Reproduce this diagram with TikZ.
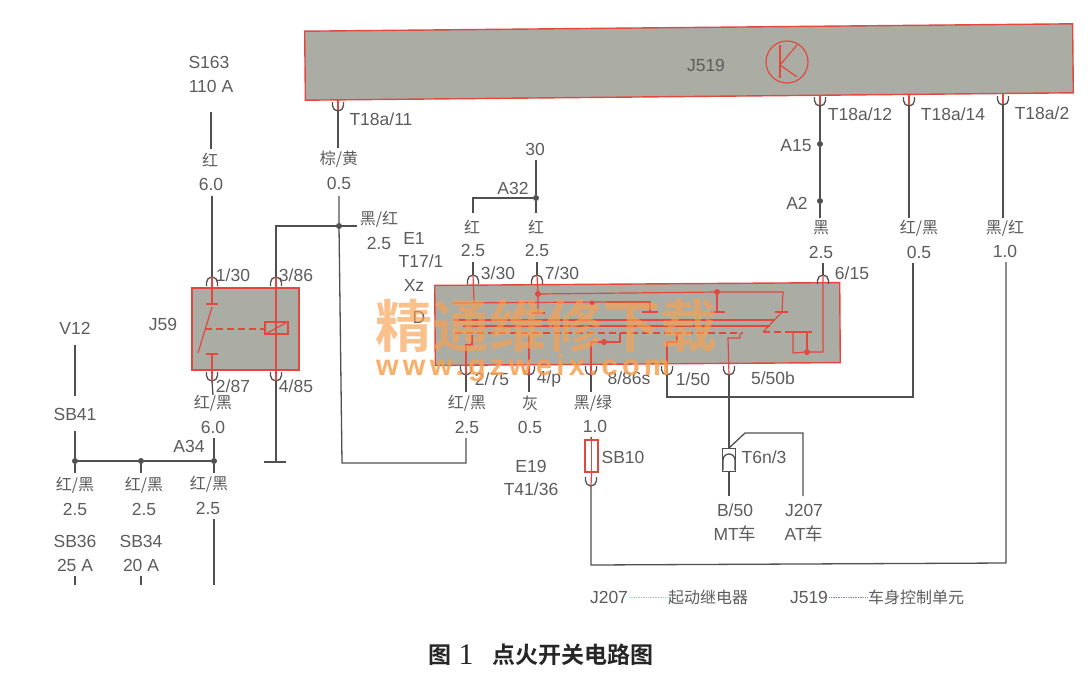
\documentclass[tikz,border=0pt]{standalone}
\usepackage{fontspec}
\setmainfont{Liberation Sans}
\newfontfamily\cjk{Noto Sans CJK SC}
\newfontfamily\cjkb{Noto Sans CJK SC Bold}
\newfontfamily\serifone{Liberation Serif}
\newfontfamily\wmfont[LetterSpace=15]{Liberation Sans Bold}
\usetikzlibrary{positioning}
\definecolor{inkGray}{HTML}{5C5C5C}
\definecolor{wireGray}{HTML}{505050}
\definecolor{boxRed}{HTML}{E2483E}
\definecolor{boxFill}{HTML}{ABADA5}
\definecolor{wmOrange}{HTML}{F8A050}
\tikzstyle{lbl} = [text=inkGray, font=\fontsize{17.5}{20}\selectfont, inner sep=1pt]
\tikzstyle{lblCn} = [text=inkGray, font=\fontsize{16}{18}\selectfont\cjk, inner sep=1pt]
\tikzstyle{wire} = [draw=wireGray, line width=1.3pt]
\tikzstyle{rline} = [draw=boxRed, line width=1.2pt]
\tikzstyle{rdash} = [draw=boxRed, line width=1.2pt, dash pattern=on 7pt off 4pt]
\tikzstyle{boxNode} = [rectangle, draw=boxRed, fill=boxFill, line width=1.4pt, inner sep=0pt]
\tikzstyle{jdot} = [circle, fill=wireGray, inner sep=0pt, minimum size=6pt]
\tikzstyle{rdot} = [circle, fill=boxRed, inner sep=0pt, minimum size=6pt]
\tikzset{
  pinTop/.pic={\draw [wire, line width=1.3pt] (-5.5,-9) -- (-5.5,-5.5) arc (180:0:5.5) -- (5.5,-9);},
  pinBot/.pic={\draw [wire, line width=1.3pt] (-5.5,9) -- (-5.5,5.5) arc (180:360:5.5) -- (5.5,9);}
}
\begin{document}
\begin{tikzpicture}[x=1pt,y=1pt]
    \useasboundingbox (0,0) rectangle (1091,-678);

    % boxes
    \node (J519box)[boxNode, minimum width=768pt, minimum height=69pt, rotate=0.55] at (689,-62) {};
    \node (J59box)[boxNode, minimum width=107pt, minimum height=82pt] at (245.5,-329) {};
    \node (E1box)[boxNode, minimum width=405pt, minimum height=80pt, rotate=0.4] at (637.5,-324) {};

    % J519
    \node (J519)[lbl] at (706,-65) {J519};
    \node (kCircle)[circle, draw=boxRed, line width=1.2pt, minimum size=42pt, inner sep=0pt] at (787,-62) {};
    \coordinate (kA) at (780,-45);
    \coordinate (kB) at (780,-78);
    \coordinate (kC) at (780,-65);
    \coordinate (kD) at (797,-45);
    \coordinate (kE) at (797,-77);
    \draw [rline] (kA) -- (kB);
    \draw [rline] (kD) -- (kC) -- (kE);

    % pins on J519
    \coordinate (b11) at (338,-100);
    \coordinate (p11) at (338,-111);
    \coordinate (b12) at (820,-96);
    \coordinate (p12) at (820,-106);
    \coordinate (b14) at (909,-95);
    \coordinate (p14) at (909,-106);
    \coordinate (b2) at (1003,-94);
    \coordinate (p2) at (1003,-105);
    \draw [rline] (b11) -- (p11);
    \draw [rline] (b12) -- (p12);
    \draw [rline] (b14) -- (p14);
    \draw [rline] (b2) -- (p2);
    \pic at (p11) {pinBot};
    \pic at (p12) {pinBot};
    \pic at (p14) {pinBot};
    \pic at (p2) {pinBot};
    \node (T11)[lbl] at (381,-119) {T18a/11};
    \node (T12)[lbl] at (860,-114) {T18a/12};
    \node (T14)[lbl] at (953,-114) {T18a/14};
    \node (T2)[lbl] at (1042,-113) {T18a/2};

    % left supply and relay J59
    \node (S163)[lbl] at (209,-62) {S163};
    \node (S163a)[lbl] at (211,-86) {110 A};
    \node (c1)[lblCn] at (210,-160) {红};
    \node (c1v)[lbl] at (211,-184) {6.0};
    \node (J59)[lbl] at (163,-324) {J59};
    \node (n130)[lbl] at (233,-275) {1/30};
    \node (n386)[lbl] at (296,-275) {3/86};
    \node (n287)[lbl] at (233,-386) {2/87};
    \node (n485)[lbl] at (296,-386) {4/85};
    \node (c2)[lblCn] at (213,-403) {红/黑};
    \node (c2v)[lbl] at (213,-427) {6.0};

    \coordinate (s1) at (211,-112);
    \coordinate (s2) at (211,-149);
    \coordinate (s3) at (212,-196);
    \coordinate (p130) at (212,-277);
    \coordinate (p386) at (276,-277);
    \coordinate (p287) at (212,-381);
    \coordinate (p485) at (276,-381);
    \pic at (p130) {pinTop};
    \pic at (p386) {pinTop};
    \pic at (p287) {pinBot};
    \pic at (p485) {pinBot};
    \draw [wire] (s1) -- (s2);
    \draw [wire] (s3) -- (p130);

    % relay inside
    \coordinate (r1) at (212,-304);
    \coordinate (r2) at (212,-354);
    \coordinate (rb1) at (206,-304);
    \coordinate (rb2) at (218,-304);
    \coordinate (rb3) at (206,-354);
    \coordinate (rb4) at (218,-354);
    \coordinate (rs1) at (212,-307);
    \coordinate (rs2) at (198,-353);
    \coordinate (rd1) at (205,-329);
    \coordinate (rd2) at (264,-329);
    \node (coil)[rectangle, draw=boxRed, line width=1.3pt, minimum width=23pt, minimum height=12pt, inner sep=0pt] at (276.5,-328) {};
    \draw [rline] (p130) -- (r1);
    \draw [rline] (rb1) -- (rb2);
    \draw [rline] (rb3) -- (rb4);
    \draw [rline] (r2) -- (p287);
    \draw [rline] (rs1) -- (rs2);
    \draw [rdash] (rd1) -- (rd2);
    \draw [rline] (p386) -- (p485);
    \draw [rline] (coil.south west) -- (coil.north east);

    % below relay, ground and bus
    \coordinate (g2) at (213,-395);
    \coordinate (g3) at (214,-438);
    \node (dA34)[jdot] at (214,-461) {};
    \node (dSB36)[jdot] at (75,-461) {};
    \node (dSB34)[jdot] at (141,-461) {};
    \coordinate (gnd) at (276,-462);
    \coordinate (gnd1) at (264,-462);
    \coordinate (gnd2) at (286,-462);
    \draw [wire] (p287) -- (g2);
    \draw [wire] (g3) -- (dA34);
    \draw [wire] (p485) -- (gnd);
    \draw [wire] (gnd1) -- (gnd2);
    \draw [wire] (dSB36) -- (dSB34) -- (dA34);

    \node (V12)[lbl] at (75,-328) {V12};
    \node (SB41)[lbl] at (75,-414) {SB41};
    \node (A34)[lbl] at (189,-446) {A34};
    \node (c3)[lblCn] at (75,-485) {红/黑};
    \node (c3v)[lbl] at (75,-509) {2.5};
    \node (SB36)[lbl] at (75,-541) {SB36};
    \node (SB36a)[lbl] at (75,-565) {25 A};
    \node (c4)[lblCn] at (144,-485) {红/黑};
    \node (c4v)[lbl] at (144,-509) {2.5};
    \node (SB34)[lbl] at (141,-541) {SB34};
    \node (SB34a)[lbl] at (141,-565) {20 A};
    \node (c5)[lblCn] at (209,-484) {红/黑};
    \node (c5v)[lbl] at (208,-508) {2.5};
    \coordinate (v1) at (75,-345);
    \coordinate (v2) at (75,-396);
    \coordinate (v3) at (75,-431);
    \coordinate (v4) at (75,-473);
    \coordinate (v5) at (75,-576);
    \coordinate (v6) at (75,-585);
    \coordinate (w1) at (141,-473);
    \coordinate (w2) at (141,-576);
    \coordinate (w3) at (141,-585);
    \coordinate (x1) at (214,-473);
    \coordinate (x2) at (214,-519);
    \coordinate (x3) at (214,-585);
    \draw [wire] (v1) -- (v2);
    \draw [wire] (v3) -- (dSB36);
    \draw [wire] (dSB36) -- (v4);
    \draw [wire] (v5) -- (v6);
    \draw [wire] (dSB34) -- (w1);
    \draw [wire] (w2) -- (w3);
    \draw [wire] (dA34) -- (x1);
    \draw [wire] (x2) -- (x3);

    % brown/yellow feed
    \node (c6)[lblCn] at (339,-159) {棕/黄};
    \node (c6v)[lbl] at (339,-183) {0.5};
    \node (c7)[lblCn] at (379,-219) {黑/红};
    \node (c7v)[lbl] at (379,-243) {2.5};
    \node (d86)[jdot, minimum size=6pt] at (339,-226) {};
    \coordinate (f1) at (338,-148);
    \coordinate (f2) at (339,-196);
    \coordinate (f3) at (342,-463);
    \coordinate (f4) at (466,-463);
    \coordinate (f5) at (466,-438);
    \coordinate (f6) at (276,-226);
    \coordinate (f7) at (357,-226);
    \draw [wire] (p11) -- (f1);
    \draw [wire] (f2) -- (d86) -- (f3) -- (f4) -- (f5);
    \draw [wire] (p386) -- (f6) -- (f7);

    % E1 top
    \node (n30)[lbl] at (535,-149) {30};
    \node (A32)[lbl] at (513,-188) {A32};
    \node (E1)[lbl] at (414,-238) {E1};
    \node (T171)[lbl] at (421,-261) {T17/1};
    \node (Xz)[lbl] at (414,-285) {Xz};
    \node (D)[lbl] at (419,-317) {D};
    \node (c8)[lblCn] at (472,-227) {红};
    \node (c8v)[lbl] at (473,-250) {2.5};
    \node (c9)[lblCn] at (536,-227) {红};
    \node (c9v)[lbl] at (537,-250) {2.5};
    \node (n330)[lbl] at (498,-273) {3/30};
    \node (n730)[lbl] at (562,-273) {7/30};
    \node (n615)[lbl] at (852,-273) {6/15};
    \node (dA32)[jdot, minimum size=6pt] at (536,-198) {};
    \coordinate (e1) at (536,-160);
    \coordinate (e2) at (536,-213);
    \coordinate (e3) at (473,-198);
    \coordinate (e4) at (473,-213);
    \coordinate (p330) at (473,-275);
    \coordinate (p730) at (537,-275);
    \coordinate (e5) at (473,-262);
    \coordinate (e6) at (537,-262);
    \pic at (p330) {pinTop};
    \pic at (p730) {pinTop};
    \draw [wire] (e1) -- (dA32) -- (e2);
    \draw [wire] (dA32) -- (e3) -- (e4);
    \draw [wire] (e5) -- (p330);
    \draw [wire] (e6) -- (p730);

    % E1 inside
    \coordinate (i1) at (474,-303);
    \coordinate (i2) at (453,-303);
    \coordinate (i3) at (607,-302);
    \node (dR1)[rdot] at (538,-294) {};
    \node (dR2)[rdot] at (717,-292) {};
    \node (dR3)[rdot, minimum size=5pt] at (592,-303) {};
    \coordinate (i4) at (783,-292);
    \coordinate (i5) at (782,-312);
    \coordinate (i6) at (775,-312);
    \coordinate (i7) at (788,-312);
    \coordinate (i8) at (763,-332);
    \coordinate (i9) at (717,-312);
    \coordinate (i10) at (710,-312);
    \coordinate (i11) at (725,-312);
    \coordinate (i12) at (538,-313);
    \coordinate (i13) at (532,-313);
    \coordinate (i14) at (545,-313);
    \coordinate (i15) at (650,-302);
    \coordinate (i16) at (650,-312);
    \coordinate (i17) at (642,-312);
    \coordinate (i18) at (658,-312);
    \coordinate (h1) at (453,-320);
    \coordinate (h2) at (775,-320);
    \coordinate (h3) at (463,-326);
    \coordinate (h4) at (770,-326);
    \coordinate (h5) at (455,-333);
    \coordinate (h6) at (743,-333);
    \coordinate (h7) at (763,-332);
    \coordinate (h8) at (792,-332);
    \coordinate (h9) at (812,-332);
    \draw [rline] (p330) -- (i1);
    \draw [rline] (p730) -- (dR1) -- (i12);
    \draw [rline] (i13) -- (i14);
    \draw [rline] (i2) -- (i3);
    \draw [rline] (i3) -- (i15) -- (i16);
    \draw [rline] (i17) -- (i18);
    \draw [rline] (dR1) -- (dR2) -- (i4) -- (i5);
    \draw [rline] (i6) -- (i7);
    \draw [rline] (i5) -- (i8);
    \draw [rline] (dR2) -- (i9);
    \draw [rline] (i10) -- (i11);
    \draw [rline] (h1) -- (h2);
    \draw [rline] (h3) -- (h4);
    \draw [rdash] (h5) -- (h6);
    \draw [rdash] (h7) -- (h8);
    \draw [rline] (h8) -- (h9);

    % E1 bottom
    \coordinate (p275) at (466,-375);
    \coordinate (p4p) at (529,-375);
    \coordinate (p886) at (591,-375);
    \coordinate (p150) at (667,-375);
    \coordinate (p550) at (729,-375);
    \coordinate (p615) at (823,-275);
    \pic at (p275) {pinBot};
    \pic at (p4p) {pinBot};
    \pic at (p886) {pinBot};
    \pic at (p150) {pinBot};
    \pic at (p550) {pinBot};
    \pic at (p615) {pinTop};
    \node (dR4)[rdot] at (604,-342) {};
    \node (dR5)[rdot] at (807,-352) {};
    \coordinate (j1) at (466,-345);
    \coordinate (j2) at (472,-345);
    \coordinate (j3) at (472,-335);
    \coordinate (j4) at (529,-335);
    \coordinate (j5) at (591,-342);
    \coordinate (j6) at (620,-342);
    \coordinate (j7) at (620,-333);
    \coordinate (j8) at (667,-342);
    \coordinate (j9) at (677,-342);
    \coordinate (j10) at (677,-334);
    \coordinate (j11) at (728,-338);
    \coordinate (j12) at (740,-338);
    \coordinate (j13) at (740,-333);
    \coordinate (j14) at (793,-332);
    \coordinate (j15) at (793,-353);
    \coordinate (j16) at (823,-352);
    \coordinate (j17) at (807,-333);
    \draw [rline] (p275) -- (j1) -- (j2) -- (j3);
    \draw [rline] (p4p) -- (j4);
    \draw [rline] (p886) -- (j5) -- (dR4) -- (j6) -- (j7);
    \draw [rline] (p150) -- (j8) -- (j9) -- (j10);
    \draw [rline] (p550) -- (j11) -- (j12) -- (j13);
    \draw [rline] (j14) -- (j15) -- (dR5) -- (j16) -- (p615);
    \draw [rline] (dR5) -- (j17);

    \node (n275)[lbl] at (492,-379) {2/75};
    \node (n4p)[lbl] at (549,-379) {4/p};
    \node (n886)[lbl] at (629,-378) {8/86s};
    \node (n150)[lbl] at (693,-379) {1/50};
    \node (n550)[lbl] at (773,-378) {5/50b};
    \node (c10)[lblCn] at (467,-403) {红/黑};
    \node (c10v)[lbl] at (467,-427) {2.5};
    \node (c11)[lblCn] at (530,-403) {灰};
    \node (c11v)[lbl] at (530,-427) {0.5};
    \node (c12)[lblCn] at (593,-403) {黑/绿};
    \node (c12v)[lbl] at (595,-426) {1.0};
    \node (E19)[lbl] at (531,-466) {E19};
    \node (T4136)[lbl] at (531,-489) {T41/36};
    \coordinate (k1) at (466,-392);
    \coordinate (k2) at (529,-392);
    \coordinate (k3) at (591,-392);
    \draw [wire] (p275) -- (k1);
    \draw [wire] (p4p) -- (k2);
    \draw [wire] (p886) -- (k3);

    % fuse SB10 and long return
    \node (SB10)[lbl] at (623,-457) {SB10};
    \node (fuse)[rectangle, draw=boxRed, fill=white, line width=1.2pt, minimum width=13pt, minimum height=32pt, inner sep=0pt] at (591.5,-456) {};
    \coordinate (u0) at (591,-437);
    \coordinate (pFuse) at (591,-486);
    \coordinate (u1) at (591,-565);
    \coordinate (u2) at (1006,-563);
    \coordinate (u3) at (1006,-262);
    \coordinate (u4) at (1003,-218);
    \pic at (pFuse) {pinBot};
    \draw [wire] (u0) -- (fuse.north);
    \draw [rline] (fuse.north) -- (fuse.south);
    \draw [rline] (fuse.south) -- (pFuse);
    \draw [wire] (pFuse) -- (u1) -- (u2) -- (u3);
    \draw [wire] (p2) -- (u4);
    \node (c13)[lblCn] at (1005,-228) {黑/红};
    \node (c13v)[lbl] at (1005,-251) {1.0};

    % right side wires
    \node (dA15)[jdot] at (820,-144) {};
    \node (dA2)[jdot] at (820,-201) {};
    \node (A15)[lbl] at (796,-146) {A15};
    \node (A2)[lbl] at (797,-203) {A2};
    \node (c14)[lblCn] at (821,-228) {黑};
    \node (c14v)[lbl] at (821,-252) {2.5};
    \node (c15)[lblCn] at (919,-228) {红/黑};
    \node (c15v)[lbl] at (919,-252) {0.5};
    \coordinate (m1) at (820,-218);
    \coordinate (m2) at (823,-263);
    \coordinate (m3) at (909,-218);
    \coordinate (m4) at (913,-263);
    \coordinate (m5) at (913,-397);
    \coordinate (m6) at (667,-397);
    \draw [wire] (p12) -- (dA15) -- (dA2) -- (m1);
    \draw [wire] (m2) -- (p615);
    \draw [wire] (p14) -- (m3);
    \draw [wire] (m4) -- (m5) -- (m6) -- (p150);

    % T6n/3
    \node (T6n)[rectangle, draw=wireGray, line width=1.4pt, minimum width=13pt, minimum height=23pt, inner sep=0pt] at (729,-460) {};
    \node (T6nL)[lbl] at (764,-457) {T6n/3};
    \node (B50)[lbl] at (735,-510) {B/50};
    \node (MT)[lbl] at (735,-534) {MT{\cjk 车}};
    \node (J207)[lbl] at (804,-510) {J207};
    \node (AT)[lbl] at (804,-534) {AT{\cjk 车}};
    \coordinate (q1) at (729,-496);
    \coordinate (q2) at (729,-448);
    \coordinate (q3) at (745,-433);
    \coordinate (q4) at (803,-433);
    \coordinate (q5) at (803,-496);
    \coordinate (q6) at (723,-470);
    \coordinate (q7) at (735,-470);
    \draw [wire] (p550) -- (T6n.north);
    \draw [wire] (T6n.south) -- (q1);
    \draw [wire] (q2) -- (q3) -- (q4) -- (q5);
    \draw [wire, line width=1.3pt] (q6) -- (723,-460) arc (180:0:6) -- (q7);

    % legend and title
    \node (lgJ207)[lbl] at (609,-597) {J207};
    \node (lgJ207t)[lblCn] at (708,-597) {起动继电器};
    \node (lgJ519)[lbl] at (809,-597) {J519};
    \node (lgJ519t)[lblCn] at (916,-597) {车身控制单元};
    \draw [draw=orange!60, line width=0.7pt, densely dotted] (lgJ207.east) -- (lgJ207t.west);
    \draw [draw=green!50!gray, line width=0.7pt, densely dotted] (lgJ519.east) -- (lgJ519t.west);
    \node (title1)[text=black!85, font=\fontsize{23}{26}\selectfont\cjkb, inner sep=0pt] at (440,-655) {图};
    \node (title2)[text=black!85, font=\fontsize{30}{32}\selectfont\serifone, inner sep=0pt] at (466,-655) {1};
    \node (title3)[text=black!85, font=\fontsize{23}{26}\selectfont\cjkb, inner sep=0pt] at (573,-655) {点火开关电路图};

    % watermark
    \node (wm)[text=wmOrange, opacity=0.65, font=\fontsize{57}{60}\selectfont\cjkb, inner sep=0pt] at (546,-326) {精通维修下载};
    \node (wmUrl)[text=wmOrange, opacity=0.85, font=\fontsize{29}{31}\selectfont\wmfont, inner sep=0pt] at (523,-368) {www.gzweix.com};
\end{tikzpicture}
\end{document}
